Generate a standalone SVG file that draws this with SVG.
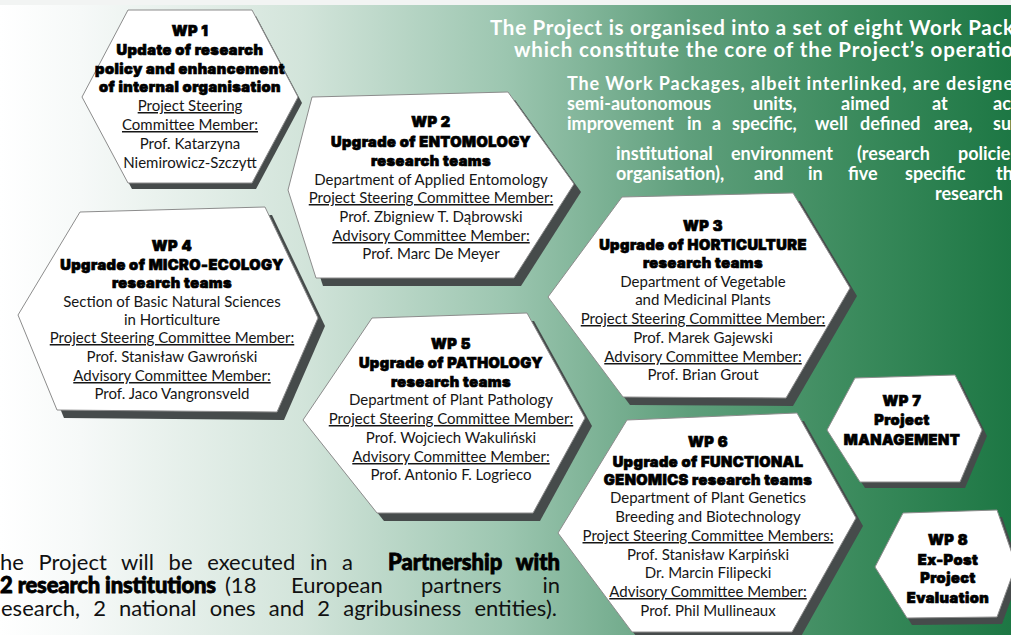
<svg xmlns="http://www.w3.org/2000/svg" width="1011" height="635" viewBox="0 0 1011 635">
<defs>
<linearGradient id="bg" x1="0" y1="0" x2="1" y2="0">
<stop offset="0" stop-color="#ffffff"/>
<stop offset="0.08" stop-color="#f6f9f8"/>
<stop offset="0.3" stop-color="#d2e4da"/>
<stop offset="0.5" stop-color="#9cc6b0"/>
<stop offset="0.68" stop-color="#5f9f7c"/>
<stop offset="0.85" stop-color="#3a8a5c"/>
<stop offset="1" stop-color="#1d7744"/>
</linearGradient>
<style>
.ext{fill:#464b4b}
.hex{fill:#ffffff;stroke:#8c8c8c;stroke-width:1}
.h{font-family:Inter,Lato,"DejaVu Sans",sans-serif;font-weight:900;font-size:14.6px;letter-spacing:0.45px;fill:#000;stroke:#000;stroke-width:0.7px;text-anchor:middle}
.b{font-family:Lato,"Liberation Sans",sans-serif;font-size:15px;fill:#161616;text-anchor:middle}
.u{text-decoration:underline}
.t1{font-family:Lato,"Liberation Sans",sans-serif;font-weight:700;font-size:20.5px;fill:#fff}
.t2{font-family:Lato,"Liberation Sans",sans-serif;font-weight:700;font-size:18px;fill:#fff}
.p{font-family:Lato,"Liberation Sans",sans-serif;font-size:22px;fill:#111}
.pb{font-family:Lato,"DejaVu Sans",sans-serif;font-weight:900;font-size:22px;fill:#000;stroke:#000;stroke-width:0.8px}
</style>
</defs>
<rect width="1011" height="635" fill="url(#bg)"/>
<rect width="1011" height="5" fill="#f2f4f3"/>

<g id="intro">
<text class="t1" x="490" y="35" textLength="524">The Project is organised into a set of eight Work Pack</text>
<text class="t1" x="514" y="57" textLength="499">which constitute the core of the Project’s operatio</text>
<text class="t2" x="567" y="90" textLength="446">The Work Packages, albeit interlinked, are designe</text>
<text class="t2" y="110"><tspan x="567">semi-autonomous</tspan><tspan x="753">units,</tspan><tspan x="841">aimed</tspan><tspan x="932">at</tspan><tspan x="993">ach</tspan></text>
<text class="t2" y="130"><tspan x="567">improvement</tspan><tspan x="687">in</tspan><tspan x="712">a</tspan><tspan x="732">specific,</tspan><tspan x="815">well</tspan><tspan x="860">defined</tspan><tspan x="934">area,</tspan><tspan x="993">su</tspan></text>
<text class="t2" y="160"><tspan x="616">institutional</tspan><tspan x="731">environment</tspan><tspan x="857">(research</tspan><tspan x="958">policie</tspan></text>
<text class="t2" y="180"><tspan x="616">organisation),</tspan><tspan x="754">and</tspan><tspan x="808">in</tspan><tspan x="848">five</tspan><tspan x="905">specific</tspan><tspan x="996">th</tspan></text>
<text class="t2" x="935" y="200">research</text>
</g>

<g id="partnership">
<text class="p" x="0" y="570" style="word-spacing:9px">he Project will be executed in a</text>
<text class="pb" x="388" y="570">Partnership</text>
<text class="pb" x="560" y="570" text-anchor="end">with</text>
<text class="pb" x="0" y="593" textLength="216">2 research institutions</text>
<text class="p" y="593"><tspan x="225">(18</tspan><tspan x="291">European</tspan><tspan x="421">partners</tspan></text>
<text class="p" x="560" y="593" text-anchor="end">in</text>
<text class="p" x="1" y="616" style="word-spacing:7.5px">esearch, 2 national ones and 2 agribusiness entities).</text>
</g>

<g id="connectors"></g>

<g id="wp1">
<polygon class="ext" transform="translate(4,6)" points="128,10 252,10 298,97 252,183 128,183 82,97"/>
<polygon class="hex" points="128,10 252,10 298,97 252,183 128,183 82,97"/>
<text class="h" x="190" y="36">WP 1</text>
<text class="h" x="190" y="55">Update of research</text>
<text class="h" x="190" y="74">policy and enhancement</text>
<text class="h" x="190" y="92">of internal organisation</text>
<text class="b u" x="190" y="111">Project Steering</text>
<text class="b u" x="190" y="130">Committee Member:</text>
<text class="b" x="190" y="149">Prof. Katarzyna</text>
<text class="b" x="190" y="168">Niemirowicz-Szczytt</text>
</g>

<g id="wp2">
<polygon class="ext" transform="translate(7,8)" points="312,97 508,92 574,184 514,278 316,278 288,190"/>
<polygon class="hex" points="312,97 508,92 574,184 514,278 316,278 288,190"/>
<text class="h" x="431" y="127">WP 2</text>
<text class="h" x="431" y="147">Upgrade of ENTOMOLOGY</text>
<text class="h" x="431" y="166">research teams</text>
<text class="b" x="431" y="185">Department of Applied Entomology</text>
<text class="b u" x="431" y="203">Project Steering Committee Member:</text>
<text class="b" x="431" y="222">Prof. Zbigniew T. Dąbrowski</text>
<text class="b u" x="431" y="241">Advisory Committee Member:</text>
<text class="b" x="431" y="259">Prof. Marc De Meyer</text>
</g>

<g id="wp3">
<polygon class="ext" transform="translate(7,8)" points="622,197 793,193 850,288 786,398 623,397 548,297"/>
<polygon class="hex" points="622,197 793,193 850,288 786,398 623,397 548,297"/>
<text class="h" x="703" y="231">WP 3</text>
<text class="h" x="703" y="250">Upgrade of HORTICULTURE</text>
<text class="h" x="703" y="268">research teams</text>
<text class="b" x="703" y="287">Department of Vegetable</text>
<text class="b" x="703" y="305">and Medicinal Plants</text>
<text class="b u" x="703" y="324">Project  Steering Committee Member:</text>
<text class="b" x="703" y="343">Prof. Marek Gajewski</text>
<text class="b u" x="703" y="362">Advisory Committee Member:</text>
<text class="b" x="703" y="380">Prof. Brian Grout</text>
</g>

<g id="wp4">
<polygon class="ext" transform="translate(7,8)" points="80,212 265,207 318,318 277,412 57,410 18,315"/>
<polygon class="hex" points="80,212 265,207 318,318 277,412 57,410 18,315"/>
<text class="h" x="172" y="251">WP 4</text>
<text class="h" x="172" y="270">Upgrade of MICRO-ECOLOGY</text>
<text class="h" x="172" y="288">research teams</text>
<text class="b" x="172" y="307">Section of Basic Natural Sciences</text>
<text class="b" x="172" y="325">in Horticulture</text>
<text class="b u" x="172" y="343">Project Steering Committee Member:</text>
<text class="b" x="172" y="362">Prof. Stanisław Gawroński</text>
<text class="b u" x="172" y="381">Advisory Committee Member:</text>
<text class="b" x="172" y="399">Prof. Jaco Vangronsveld</text>
</g>

<g id="wp5">
<polygon class="ext" transform="translate(7,8)" points="372,318 527,313 585,418 533,513 377,513 303,420"/>
<polygon class="hex" points="372,318 527,313 585,418 533,513 377,513 303,420"/>
<text class="h" x="451" y="349">WP 5</text>
<text class="h" x="451" y="368">Upgrade of PATHOLOGY</text>
<text class="h" x="451" y="387">research teams</text>
<text class="b" x="451" y="405">Department of Plant Pathology</text>
<text class="b u" x="451" y="424">Project Steering Committee Member:</text>
<text class="b" x="451" y="443">Prof. Wojciech Wakuliński</text>
<text class="b u" x="451" y="462">Advisory Committee Member:</text>
<text class="b" x="451" y="480">Prof. Antonio F. Logrieco</text>
</g>

<g id="wp6">
<polygon class="ext" transform="translate(7,8)" points="627,420 797,413 856,518 792,632 632,632 558,533"/>
<polygon class="hex" points="627,420 797,413 856,518 792,632 632,632 558,533"/>
<text class="h" x="708" y="447">WP 6</text>
<text class="h" x="708" y="467">Upgrade of FUNCTIONAL</text>
<text class="h" x="708" y="485">GENOMICS research teams</text>
<text class="b" x="708" y="503">Department of Plant Genetics</text>
<text class="b" x="708" y="522">Breeding and Biotechnology</text>
<text class="b u" x="708" y="541">Project Steering Committee Members:</text>
<text class="b" x="708" y="560">Prof. Stanisław Karpiński</text>
<text class="b" x="708" y="578">Dr. Marcin Filipecki</text>
<text class="b u" x="708" y="597">Advisory Committee Member:</text>
<text class="b" x="708" y="616">Prof. Phil Mullineaux</text>
</g>

<g id="wp7">
<polygon class="ext" transform="translate(5,6)" points="855,378 955,375 982,430 960,482 860,482 827,430"/>
<polygon class="hex" points="855,378 955,375 982,430 960,482 860,482 827,430"/>
<text class="h" x="902" y="406">WP 7</text>
<text class="h" x="902" y="425">Project</text>
<text class="h" x="902" y="445">MANAGEMENT</text>
</g>

<g id="wp8">
<polygon class="ext" transform="translate(5,7)" points="903,513 997,510 1016,565 997,617 907,618 875,567"/>
<polygon class="hex" points="903,513 997,510 1016,565 997,617 907,618 875,567"/>
<text class="h" x="948" y="545">WP 8</text>
<text class="h" x="948" y="565">Ex-Post</text>
<text class="h" x="948" y="583">Project</text>
<text class="h" x="948" y="603">Evaluation</text>
</g>
</svg>
